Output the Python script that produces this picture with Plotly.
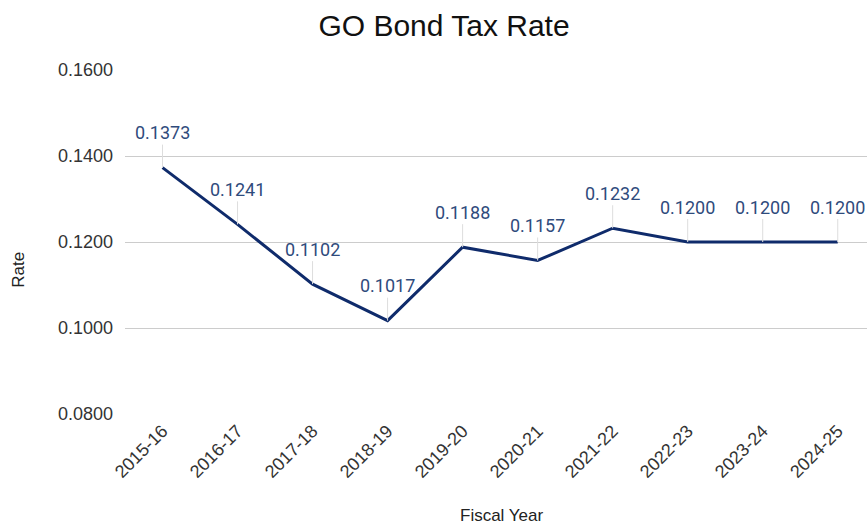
import plotly.graph_objects as go

years = ["2015-16", "2016-17", "2017-18", "2018-19", "2019-20",
         "2020-21", "2021-22", "2022-23", "2023-24", "2024-25"]
rates = [0.1373, 0.1241, 0.1102, 0.1017, 0.1188,
         0.1157, 0.1232, 0.1200, 0.1200, 0.1200]
y_ticks = [0.08, 0.10, 0.12, 0.14, 0.16]

LINE = "#0f2b6b"
LABEL = "#2f4b7c"
TEXT = "#333333"

fig = go.Figure()
fig.add_trace(go.Scatter(
    x=years, y=rates, mode="lines",
    line=dict(color=LINE, width=3),
    hoverinfo="x+y",
))

# value labels with thin leader lines
for yr, r in zip(years, rates):
    fig.add_annotation(
        x=yr, y=r, text=f"{r:.4f}",
        showarrow=True, arrowhead=0, arrowwidth=1, arrowcolor="#dddddd",
        ax=0, ay=-35, standoff=0,
        font=dict(family="Roboto", size=18, color=LABEL),
    )

# axis titles
fig.add_annotation(text="Rate", xref="paper", yref="paper",
                   x=-0.143, y=0.419, textangle=-90, showarrow=False,
                   xanchor="center", yanchor="middle",
                   font=dict(family="Arial", size=17, color="#222222"))
fig.add_annotation(text="Fiscal Year", xref="paper", yref="paper",
                   x=0.507, y=-0.294, showarrow=False,
                   xanchor="center", yanchor="middle",
                   font=dict(family="Arial", size=17, color="#222222"))

fig.update_layout(
    width=867, height=525,
    margin=dict(l=125, r=0, t=70, b=111),
    paper_bgcolor="white", plot_bgcolor="white",
    showlegend=False,
    title=dict(text="GO Bond Tax Rate", x=444 / 867, xref="container",
               xanchor="center", y=0.952, yanchor="middle",
               font=dict(family="Arial", size=30, color="#111111")),
    xaxis=dict(
        type="category", range=[-0.5, 9.39],
        showgrid=False, showline=False, zeroline=False,
        tickangle=-45, ticks="", ticklabelstandoff=2,
        tickfont=dict(family="Arial", size=18, color=TEXT),
    ),
    yaxis=dict(
        range=[0.08, 0.16], tickvals=y_ticks, tickformat=".4f",
        showgrid=True, gridcolor="#cccccc", gridwidth=1,
        zeroline=False, showline=False, ticks="",
        ticklabelstandoff=11,
        tickfont=dict(family="Arial", size=18, color=TEXT),
    ),
)

fig.write_html("out.html")
